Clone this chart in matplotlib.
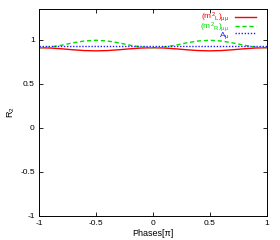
import numpy as np
import matplotlib
matplotlib.use("Agg")
import matplotlib.pyplot as plt

plt.rcParams['font.family'] = ['Liberation Sans', 'DejaVu Sans']
plt.rcParams['axes.unicode_minus'] = False
plt.rcParams['mathtext.fontset'] = 'custom'
plt.rcParams['mathtext.rm'] = 'Liberation Sans'
plt.rcParams['mathtext.it'] = 'Liberation Sans'

# phase values (in units of pi) and read-off curves
phases = [-1.0, -0.9, -0.8, -0.7, -0.6, -0.5, -0.4, -0.3, -0.2, -0.1, 0.0,
          0.1, 0.2, 0.3, 0.4, 0.5, 0.6, 0.7, 0.8, 0.9, 1.0]
r2_mL = [0.910, 0.907, 0.898, 0.887, 0.878, 0.875, 0.878, 0.887, 0.898, 0.907, 0.910,
         0.907, 0.898, 0.887, 0.878, 0.875, 0.878, 0.887, 0.898, 0.907, 0.910]
r2_mR = [0.910, 0.918, 0.939, 0.966, 0.987, 0.995, 0.987, 0.966, 0.939, 0.918, 0.910,
         0.918, 0.939, 0.966, 0.987, 0.995, 0.987, 0.966, 0.939, 0.918, 0.910]
r2_A = [0.925] * len(phases)

xticks = [-1, -0.5, 0, 0.5, 1]
yticks = [-1, -0.5, 0, 0.5, 1]

fig = plt.figure(figsize=(2.8, 2.4), dpi=100)
ax = fig.add_axes([0.139, 0.1, 0.813, 0.8625])

ax.plot(phases, r2_mL, color='#ff0000', lw=1.0, label=r'$(m^2{}_L)_{\mu\mu}$')
ax.plot(phases, r2_mR, color='#00dd00', lw=1.0, ls=(0, (3, 2)), label=r'$(m^2{}_R)_{\mu\mu}$')
ax.plot(phases, r2_A, color='#2020ff', lw=1.0, ls=(0, (1, 1.2)), label=r'$A_\mu$')

ax.set_xlim(-1, 1)
ax.set_ylim(-1, 1.35)
ax.set_xticks(xticks)
ax.set_yticks(yticks)
ax.set_xticklabels(['-1', '-0.5', '0', '0.5', '1'])
ax.set_yticklabels(['-1', '-0.5', '0', '0.5', '1'])
ax.tick_params(direction='in', top=True, right=True, labelsize=6, length=3, width=0.6, pad=3)
for s in ax.spines.values():
    s.set_linewidth(0.7)

ax.set_xlabel('Phases[π]', fontsize=6.5, labelpad=1)
ax.set_ylabel(r'R$_2$', fontsize=6.5, labelpad=2)

ax.legend(loc='upper right', bbox_to_anchor=(0.955, 0.99), markerfirst=False, frameon=False,
          labelcolor='linecolor', fontsize=6, handlelength=2.6, handletextpad=0.6,
          labelspacing=-0.45, borderaxespad=0, borderpad=0)

fig.savefig('out.png', dpi=100)
